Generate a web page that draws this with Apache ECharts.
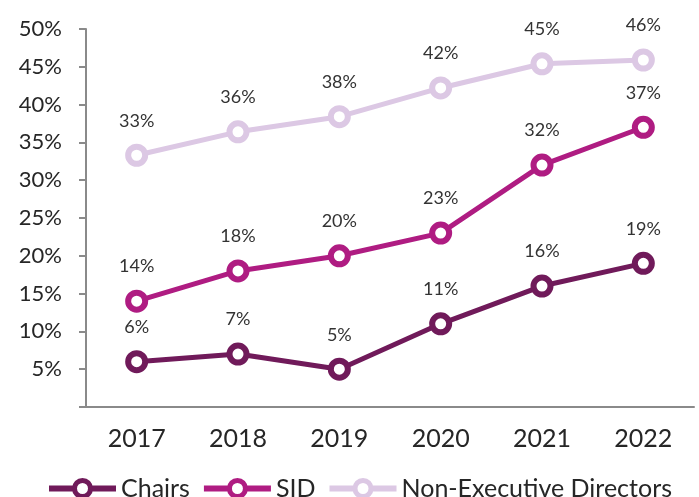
<!DOCTYPE html>
<html>
<head>
<meta charset="utf-8">
<style>
  html, body { margin: 0; padding: 0; background: #ffffff; }
  #chart { width: 699px; height: 497px; }
</style>
<script src="https://cdn.jsdelivr.net/npm/echarts@6/dist/echarts.min.js"></script>
</head>
<body>
<div id="chart"></div>
<script>
// Board roles held by women, share by year
const years = ['2017', '2018', '2019', '2020', '2021', '2022'];
const chairs = [6, 7, 5, 11, 16, 19];
const sid = [14, 18, 20, 23, 32, 37];
const nonExecutive = [33.3, 36.4, 38.4, 42.2, 45.4, 45.9];
const yTicks = [0, 5, 10, 15, 20, 25, 30, 35, 40, 45, 50];

const FONT = 'Lato, "Open Sans", sans-serif';
const TEXT = '#262626';
const AXIS = '#8a8a8a';

function lineSeries(name, values, color) {
  return {
    name: name,
    type: 'line',
    data: values,
    symbol: 'circle',
    symbolSize: 17,
    showAllSymbol: true,
    lineStyle: { color: color, width: 5 },
    itemStyle: { color: '#ffffff', borderColor: color, borderWidth: 6 },
    label: {
      show: true,
      position: 'top',
      distance: 14,
      fontFamily: FONT,
      fontSize: 18,
      color: '#333333',
      formatter: p => Math.round(p.value) + '%'
    },
    emphasis: { disabled: true },
    z: 3
  };
}

const chart = echarts.init(document.getElementById('chart'), null, { renderer: 'canvas' });
chart.setOption({
  animation: false,
  backgroundColor: '#ffffff',
  grid: { left: 86, right: 5, top: 29, bottom: 90, containLabel: false },
  legend: {
    left: 46,
    top: 476,
    padding: 0,
    itemWidth: 67,
    itemHeight: 20,
    itemGap: 11,
    lineStyle: { width: 6 },
    itemStyle: { borderWidth: 5 },
    textStyle: { fontFamily: FONT, fontSize: 25, color: TEXT },
    data: ['Chairs', 'SID', 'Non-Executive Directors']
  },
  xAxis: {
    type: 'category',
    data: years,
    boundaryGap: true,
    axisLine: { lineStyle: { color: AXIS, width: 2 } },
    axisTick: { show: false },
    axisLabel: { fontFamily: FONT, fontSize: 25, color: TEXT, margin: 19 }
  },
  yAxis: {
    type: 'value',
    min: yTicks[0],
    max: yTicks[yTicks.length - 1],
    interval: yTicks[1] - yTicks[0],
    splitLine: { show: false },
    axisLine: { show: true, lineStyle: { color: AXIS, width: 2 } },
    axisTick: { show: true, length: 7, lineStyle: { color: AXIS, width: 2 } },
    axisLabel: {
      fontFamily: FONT,
      fontSize: 22,
      color: TEXT,
      margin: 24,
      formatter: v => (v === 0 ? '' : v + '%')
    }
  },
  series: [
    lineSeries('Chairs', chairs, '#701a5a'),
    lineSeries('SID', sid, '#af1c82'),
    lineSeries('Non-Executive Directors', nonExecutive, '#dcc8e4')
  ]
});
</script>
</body>
</html>
